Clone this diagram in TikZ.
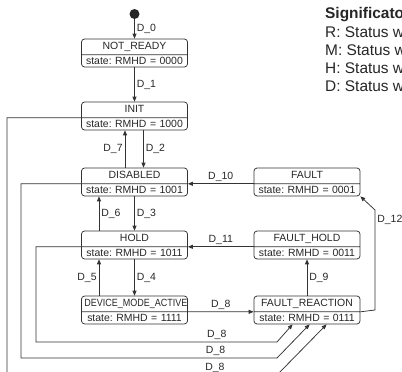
\documentclass[tikz,border=0pt]{standalone}
\usepackage{fontspec}
\setmainfont{Liberation Sans}
\usepackage{graphicx}
\usetikzlibrary{shapes.multipart, arrows.meta, positioning}
\frenchspacing

\begin{document}
\begin{tikzpicture}[x=1bp, y=-1bp,
    every node/.style={font=\fontsize{10.5}{12}\selectfont, text=black!85},
    statebox/.style={rectangle split, rectangle split parts=2, draw=black!80,
        line width=0.75bp, rounded corners=3bp, text width=100bp, align=center,
        inner xsep=3bp, inner ysep=2bp, text height=8bp, text depth=3bp},
    trans/.style={draw=black!80, line width=0.75bp, -{Triangle[length=5bp,width=4bp]}},
    lbl/.style={inner sep=2bp},
    legend/.style={anchor=base west, inner sep=0pt, font=\fontsize{15.5}{18}\selectfont}]
    \clip (0,0) rectangle (402,372);
    \node[circle, fill=black!85, minimum size=10bp, inner sep=0pt] (start) at (134.5,14) {};
    \node[statebox] (nready) at (134.5,53) {NOT\_READY\nodepart{two}state: RMHD = 0000};
    \node[statebox] (init) at (134.5,116) {INIT\nodepart{two}state: RMHD = 1000};
    \node[statebox] (disabled) at (134.5,182) {DISABLED\nodepart{two}state: RMHD = 1001};
    \node[statebox] (hold) at (134.5,245) {HOLD\nodepart{two}state: RMHD = 1011};
    \node[statebox] (dmactive) at (134.5,310) {\scalebox{0.86}[1]{DEVICE\_MODE\_ACTIVE}\nodepart{two}state: RMHD = 1111};
    \node[statebox] (fault) at (307,182) {FAULT\nodepart{two}state: RMHD = 0001};
    \node[statebox] (fhold) at (307,245) {FAULT\_HOLD\nodepart{two}state: RMHD = 0011};
    \node[statebox] (freact) at (307,310) {FAULT\_REACTION\nodepart{two}state: RMHD = 0111};
    \draw[trans] (start) -- node[right,lbl] {D\_0} (nready.north);
    \draw[trans] (nready.south) -- node[right,lbl] {D\_1} (init.north);
    \draw[trans] ([xshift=9bp]init.south) -- node[right,lbl] {D\_2} ([xshift=9bp]disabled.north);
    \draw[trans] ([xshift=-9.5bp]disabled.north) -- node[left,lbl] {D\_7} ([xshift=-9.5bp]init.south);
    \draw[trans] (disabled.south) -- node[right,lbl] {D\_3} (hold.north);
    \draw[trans] ([xshift=-35.5bp]hold.north) -- node[right,lbl] {D\_6} ([xshift=-35.5bp]disabled.south);
    \draw[trans] (hold.south) -- node[right,lbl] {D\_4} (dmactive.north);
    \draw[trans] ([xshift=-35.5bp]dmactive.north) -- node[left,lbl] {D\_5} ([xshift=-35.5bp]hold.south);
    \draw[trans] (dmactive.text split east) -- node[above,lbl] {D\_8} (freact.text split west);
    \draw[trans] (freact.north) -- node[right,lbl] {D\_9} (fhold.south);
    \draw[trans] (fault.text split west) -- node[above,lbl] {D\_10} (disabled.text split east);
    \draw[trans] (fhold.text split west) -- node[above,lbl] {D\_11} (hold.text split east);
    \draw[trans] (freact.text split east) -- (375,310) -- node[right,lbl,pos=0.9] {D\_12} (375,210) -- (fault.south east);
    \draw[trans] (hold.text split west) -| (36,342) -- node[above,lbl,pos=0.75] {D\_8} (277,342) -- ([xshift=39bp]freact.south west);
    \draw[trans] (disabled.text split west) -| (21,358) -- node[above,lbl,pos=0.76] {D\_8} (277,358) -- ([xshift=56bp]freact.south west);
    \draw[trans] (init.text split west) -| (7,375) -- node[above,lbl,pos=0.77] {D\_8} (277,375) -- ([xshift=73bp]freact.south west);
    \node[legend, font=\fontsize{15.5}{18}\selectfont\bfseries] (legtitle) at (325,18) {Significato};
    \node[legend] (legr) at (325,37) {R: Status w};
    \node[legend] (legm) at (325,55) {M: Status w};
    \node[legend] (legh) at (325,73) {H: Status w};
    \node[legend] (legd) at (325,91) {D: Status w};
\end{tikzpicture}
\end{document}
